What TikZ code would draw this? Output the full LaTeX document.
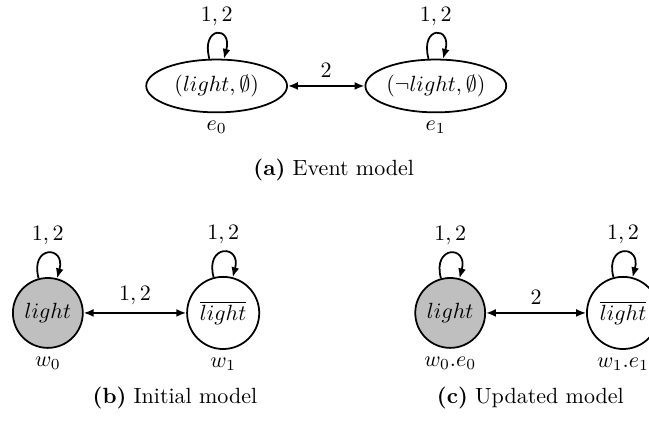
\documentclass[tikz,border=0pt]{standalone}
\usepackage{tikz}
\usetikzlibrary{arrows.meta,positioning,shapes.geometric}

\begin{document}
\begin{tikzpicture}[>={Latex[length=4.5pt,width=3.6pt]},
  evtNd/.style={draw,thick,ellipse,inner sep=0pt,minimum width=64pt,minimum height=24pt},
  wldNd/.style={draw,thick,circle},
  capNd/.style={font=\normalsize},
  selfLp/.style={loop above,distance=5.5mm,shorten >=2pt}]
\useasboundingbox (0,0) rectangle (10.365,6.723);

%事件模型
\begin{scope}[shift={(5.21,5.35)}]
\node[evtNd,label=270:$e_0$] (nE0Pt) at (-1.75,0) {$(light,\emptyset)$};
\node[evtNd,label=270:$e_1$] (nE1Pt) at (1.75,0) {$(\neg light,\emptyset)$};
\draw[thick,<->] (nE0Pt) -- node[above]{$2$} (nE1Pt);
\node[capNd] (nCapAPt) at (0.12,-1.34) {\textbf{(a)} Event model};
\end{scope}

%初始模型
\begin{scope}[shift={(2.164,1.725)}]
\node[wldNd,fill=lightgray,label=270:$w_0$] (nW0Pt) at (-1.4,0) {$light$};
\node[wldNd,label=270:$w_1$] (nW1Pt) at (1.4,0) {$\overline{light}$};
\draw[thick,<->] (nW0Pt) -- node[above]{$1,2$} (nW1Pt);
\node[capNd] (nCapBPt) at (0.63,-1.36) {\textbf{(b)} Initial model};
\end{scope}

%更新模型
\begin{scope}[shift={(8.57,1.725)}]
\node[wldNd,fill=lightgray,label=270:$w_0.e_0$] (nW0E0Pt) at (-1.38,0) {$light$};
\node[wldNd,label=270:$w_1.e_1$] (nW1E1Pt) at (1.38,0) {$\overline{light}$};
\draw[thick,<->] (nW0E0Pt) -- node[above]{$2$} (nW1E1Pt);
\node[capNd] (nCapCPt) at (-0.1,-1.36) {\textbf{(c)} Updated model};
\end{scope}

\foreach \v in {nE0Pt,nE1Pt,nW0Pt,nW1Pt,nW0E0Pt,nW1E1Pt}
{
    \draw[thick,->] (\v) to[selfLp] node[above]{$1,2$} (\v);
};
\end{tikzpicture}
\end{document}
